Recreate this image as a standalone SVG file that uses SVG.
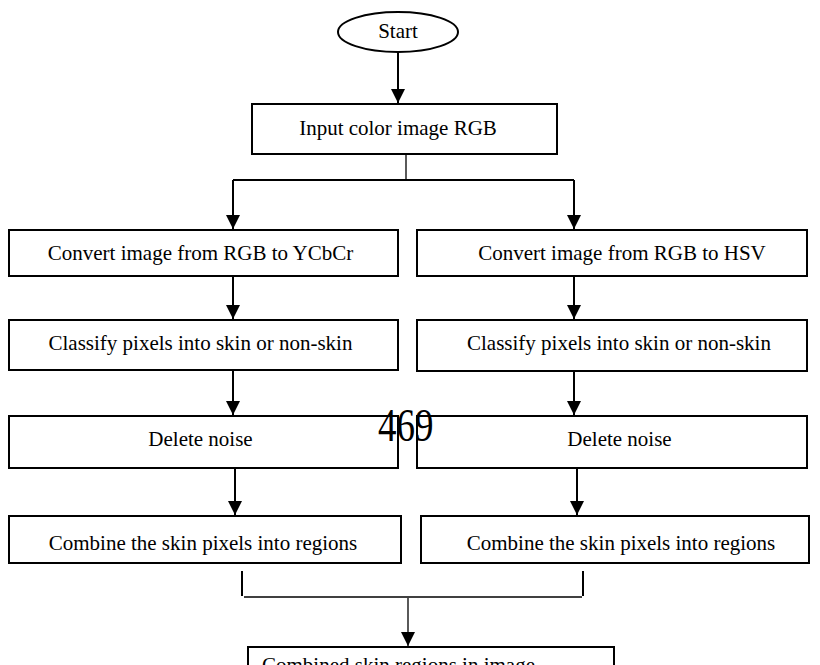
<svg xmlns="http://www.w3.org/2000/svg" width="820" height="665" viewBox="0 0 820 665">
  <style>
    .box { fill: #fff; stroke: #000; stroke-width: 2; }
    .lbl { font-family: "Liberation Serif", "Times New Roman", serif; font-size: 21px; fill: #000; text-anchor: middle; }
    .ln { fill: none; stroke: #000; stroke-width: 2; }
    .thin { fill: none; stroke: #000; stroke-width: 1.3; }
  </style>
  <defs>
    <marker id="ah" markerWidth="14" markerHeight="14" refX="14" refY="7" orient="auto" markerUnits="userSpaceOnUse">
      <path d="M0,0 L14,7 L0,14 Z" fill="#000"/>
    </marker>
  </defs>
  <rect width="820" height="665" fill="#fff"/>

  <!-- flow connectors -->
  <g id="connectors">
    <line class="ln" x1="398" y1="52" x2="398" y2="103" marker-end="url(#ah)"/>
    <line class="thin" x1="406" y1="154" x2="406" y2="180"/>
    <line class="ln" x1="233" y1="180" x2="574" y2="180"/>
    <line class="ln" x1="233" y1="180" x2="233" y2="229" marker-end="url(#ah)"/>
    <line class="ln" x1="574" y1="180" x2="574" y2="229" marker-end="url(#ah)"/>
    <line class="ln" x1="233" y1="276" x2="233" y2="319" marker-end="url(#ah)"/>
    <line class="ln" x1="574" y1="276" x2="574" y2="319" marker-end="url(#ah)"/>
    <line class="ln" x1="233" y1="370" x2="233" y2="415" marker-end="url(#ah)"/>
    <line class="ln" x1="574" y1="371" x2="574" y2="415" marker-end="url(#ah)"/>
    <line class="ln" x1="235" y1="468" x2="235" y2="515" marker-end="url(#ah)"/>
    <line class="ln" x1="577" y1="468" x2="577" y2="515" marker-end="url(#ah)"/>
    <line class="ln" x1="242" y1="571" x2="242" y2="596"/>
    <line class="ln" x1="583" y1="571" x2="583" y2="596"/>
    <line class="thin" x1="244" y1="597" x2="582" y2="597"/>
    <line class="thin" x1="408" y1="598" x2="408" y2="646" marker-end="url(#ah)"/>
  </g>

  <g id="start">
    <ellipse class="box" cx="398" cy="32" rx="60" ry="20"/>
    <text class="lbl" x="398" y="38">Start</text>
  </g>

  <g id="input">
    <rect class="box" x="252" y="104" width="305" height="50"/>
    <text class="lbl" x="398" y="135">Input color image RGB</text>
  </g>

  <g id="ycbcr">
    <rect class="box" x="9" y="230" width="389" height="46"/>
    <text class="lbl" x="200.5" y="260">Convert image from RGB to YCbCr</text>
  </g>
  <g id="hsv">
    <rect class="box" x="417" y="230" width="390" height="46"/>
    <text class="lbl" x="622" y="260">Convert image from RGB to HSV</text>
  </g>

  <g id="classify-left">
    <rect class="box" x="9" y="320" width="389" height="50"/>
    <text class="lbl" x="200.5" y="350">Classify pixels into skin or non-skin</text>
  </g>
  <g id="classify-right">
    <rect class="box" x="417" y="320" width="390" height="51"/>
    <text class="lbl" x="619" y="350">Classify pixels into skin or non-skin</text>
  </g>

  <g id="noise-left">
    <rect class="box" x="9" y="416" width="389" height="52"/>
    <text class="lbl" x="200.5" y="446">Delete noise</text>
  </g>
  <g id="noise-right">
    <rect class="box" x="417" y="416" width="390" height="52"/>
    <text class="lbl" x="619.5" y="446">Delete noise</text>
  </g>

  <g id="combine-left">
    <rect class="box" x="9" y="516" width="392" height="47"/>
    <text class="lbl" x="203" y="550">Combine the skin pixels into regions</text>
  </g>
  <g id="combine-right">
    <rect class="box" x="421" y="516" width="388" height="47"/>
    <text class="lbl" x="621" y="550">Combine the skin pixels into regions</text>
  </g>

  <g id="merged">
    <rect class="box" x="248" y="647" width="366" height="40"/>
    <text class="lbl" x="262" y="672" style="text-anchor:start">Combined skin regions in image</text>
  </g>

  <!-- page number printed over the chart -->
  <text transform="translate(378,441) scale(1,1.24)" font-family="Liberation Serif, Times New Roman, serif" font-size="37" fill="#000">469</text>
</svg>
